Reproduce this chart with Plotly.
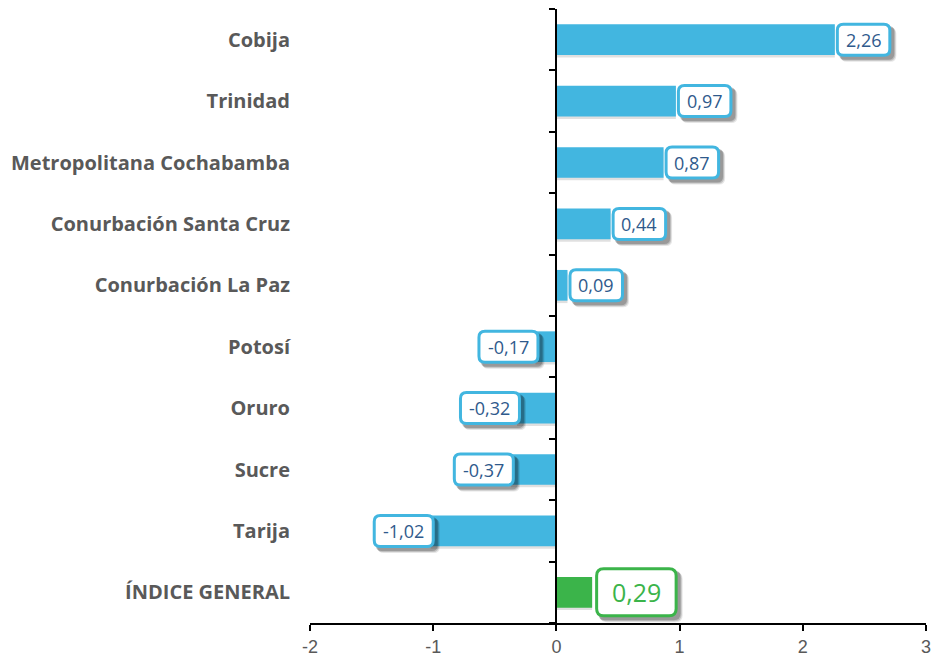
import plotly.graph_objects as go

categories = ["Cobija", "Trinidad", "Metropolitana Cochabamba", "Conurbación Santa Cruz",
              "Conurbación La Paz", "Potosí", "Oruro", "Sucre", "Tarija", "ÍNDICE GENERAL"]
values = [2.26, 0.97, 0.87, 0.44, 0.09, -0.17, -0.32, -0.37, -1.02, 0.29]
x_ticks = [-2, -1, 0, 1, 2, 3]

BLUE = "#42B6E0"
GREEN = "#3BB44A"
TEXT_BLUE = "#2F5A8C"
GRAY = "#595959"

def fmt(v):
    s = f"{abs(v):.2f}".replace(".", ",")
    return ("-" + s) if v < 0 else s

def text_width(s, big):
    w = 0
    for ch in s:
        if ch.isdigit():
            w += 14 if big else 10.3
        elif ch == ",":
            w += 6.5 if big else 4.6
        else:
            w += 6.5
    return w + (34 if big else 20)

def rrect(x0, x1, y0, y1, r):
    return (f"M{x0+r},{y0} L{x1-r},{y0} Q{x1},{y0} {x1},{y0+r} L{x1},{y1-r} "
            f"Q{x1},{y1} {x1-r},{y1} L{x0+r},{y1} Q{x0},{y1} {x0},{y1-r} "
            f"L{x0},{y0+r} Q{x0},{y0} {x0+r},{y0} Z")

colors = [GREEN if c == "ÍNDICE GENERAL" else BLUE for c in categories]

fig = go.Figure()
# bar shadow
fig.add_trace(go.Bar(x=values, y=categories, orientation="h", width=0.5, offset=-0.21,
                     marker=dict(color="rgba(0,0,0,0.12)", line=dict(width=0)),
                     hoverinfo="skip", showlegend=False))
fig.add_trace(go.Bar(x=values, y=categories, orientation="h", width=0.5, offset=-0.25,
                     marker=dict(color=colors, line=dict(width=0)), showlegend=False))
# helper trace for the zero axis
fig.add_trace(go.Scatter(x=[0], y=[0], yaxis="y2", mode="markers",
                         marker=dict(opacity=0), hoverinfo="skip", showlegend=False))

shapes = []
annotations = []
for i, (c, v) in enumerate(zip(categories, values)):
    big = c == "ÍNDICE GENERAL"
    label = fmt(v)
    w = text_width(label, big)
    h = 50 if big else 34
    col = GREEN if big else BLUE
    if v >= 0:
        x0 = 1 if not big else 3
        x1 = x0 + w
    else:
        x1 = 4
        x0 = x1 - w
    y0, y1 = -h / 2, h / 2
    r = 7 if big else 6
    for dx, dy, a in [(5, -5, 0.10), (4, -4, 0.16), (3, -3, 0.2)]:
        shapes.append(dict(type="path", xref="x", yref="y", xsizemode="pixel", ysizemode="pixel",
                           xanchor=v, yanchor=i,
                           path=rrect(x0 + dx, x1 + dx, y0 + dy, y1 + dy, r),
                           fillcolor=f"rgba(0,0,0,{a})", line=dict(width=0)))
    shapes.append(dict(type="path", xref="x", yref="y", xsizemode="pixel", ysizemode="pixel",
                       xanchor=v, yanchor=i,
                       path=rrect(x0 + 1.5, x1 - 1.5, y0 + 1.5, y1 - 1.5, r),
                       fillcolor="white", line=dict(color=col, width=3)))
    annotations.append(dict(x=v, y=c, xref="x", yref="y", text=label, showarrow=False,
                            xanchor="center", yanchor="middle", xshift=(x0 + x1) / 2,
                            font=dict(family="Open Sans", size=25 if big else 18,
                                      color=GREEN if big else TEXT_BLUE)))

n = len(categories)
fig.update_layout(
    width=934, height=656,
    margin=dict(l=310, r=8, t=9, b=33),
    plot_bgcolor="white", paper_bgcolor="white",
    barmode="overlay",
    shapes=shapes, annotations=annotations,
    xaxis=dict(range=[x_ticks[0], x_ticks[-1]], tickvals=x_ticks, ticktext=[str(t) for t in x_ticks],
               showgrid=False, zeroline=False, showline=True, linecolor="black", linewidth=2,
               ticks="outside", ticklen=6, tickwidth=2, tickcolor="black", automargin=False,
               tickfont=dict(family="Liberation Sans", size=18, color=GRAY)),
    yaxis=dict(type="category", categoryorder="array", categoryarray=categories,
               range=[n - 0.5, -0.5], showgrid=False, zeroline=False, showline=False,
               ticks="", ticklabelstandoff=19, automargin=False,
               tickfont=dict(family="Open Sans", size=20, color=GRAY, weight="bold")),
    yaxis2=dict(overlaying="y", anchor="free",
                position=(0 - x_ticks[0]) / (x_ticks[-1] - x_ticks[0]),
                range=[n - 0.5, -0.5], tickvals=[k - 0.5 for k in range(n + 1)],
                showticklabels=False, ticks="outside", ticklen=6, tickwidth=2, tickcolor="black",
                showline=True, linecolor="black", linewidth=2, showgrid=False, zeroline=False),
)

fig.write_html("out.html", config={"displayModeBar": False},
               post_script="document.body.style.margin='0';")
